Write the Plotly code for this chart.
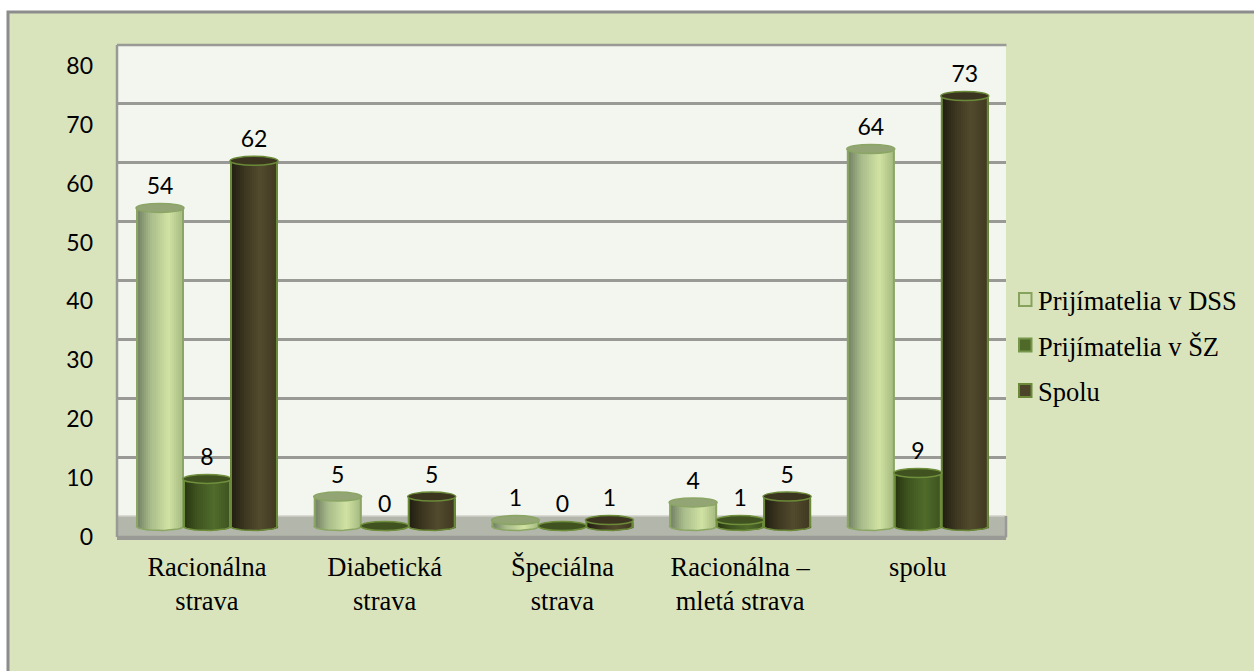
import plotly.graph_objects as go

categories = ["Racionálna<br>strava", "Diabetická<br>strava", "Špeciálna<br>strava", "Racionálna –<br>mletá strava", "spolu"]
series_names = ["Prijímatelia v DSS", "Prijímatelia v ŠZ", "Spolu"]
dss_values = [54, 5, 1, 4, 64]
sz_values = [8, 0, 0, 1, 9]
spolu_values = [62, 5, 1, 5, 73]
y_ticks = [0, 10, 20, 30, 40, 50, 60, 70, 80]

W, H = 1254, 671
PL, PR, PT, PB = 117, 1006, 45, 537
PX_PER_UNIT = 5.89
PX_PER_CAT = 177.7
CAT0_PX = 207

def yrange(zero_px):
    return [(zero_px - PB) / PX_PER_UNIT, (zero_px - PT) / PX_PER_UNIT]

def px_x(px):
    return (px - PL) / (PR - PL)

def px_y(px):
    return (PB - px) / (PB - PT)

def hexrgb(c):
    return [int(c[i:i + 2], 16) for i in (1, 3, 5)]

def ramp(stops, t):
    for (t0, c0), (t1, c1) in zip(stops, stops[1:]):
        if t <= t1:
            f = (t - t0) / (t1 - t0)
            a, b = hexrgb(c0), hexrgb(c1)
            return "rgb(%d,%d,%d)" % tuple(round(a[k] + (b[k] - a[k]) * f) for k in range(3))
    return stops[-1][1]

styles = [
    dict(stops=[(0, "#6d7a60"), (0.3, "#a8bb8a"), (0.68, "#d1e3a3"), (1, "#a2b67f")],
         cap="#93a574", edge="#8aa564", swatch="#d3e0b4", swatch_edge="#87a25c"),
    dict(stops=[(0, "#26320f"), (0.3, "#3f5420"), (0.65, "#506b2a"), (1, "#3d5220")],
         cap="#3f5220", edge="#6f8f3c", swatch="#4f6a28", swatch_edge="#76964a"),
    dict(stops=[(0, "#1f1c10"), (0.3, "#3c3620"), (0.62, "#534b2e"), (1, "#3e3820")],
         cap="#3b3520", edge="#6a8a38", swatch="#4b4428", swatch_edge="#6a8a38"),
]

values = [dss_values, sz_values, spolu_values]
xs = list(range(len(categories)))
N = 24
bar_w = 48 / PX_PER_CAT
group_dx = 47 / PX_PER_CAT
cap_h = 4.5 / PX_PER_UNIT

fig = go.Figure()

# anchors for the overlaid value scales
fig.add_trace(go.Scatter(x=[0], y=[0], mode="markers", marker=dict(opacity=0), showlegend=False, hoverinfo="skip", yaxis="y"))
fig.add_trace(go.Scatter(x=[0], y=[0], mode="markers", marker=dict(opacity=0), showlegend=False, hoverinfo="skip", yaxis="y2"))

FRAME = "#999a95"
shapes = [
    dict(type="rect", xref="paper", yref="paper", layer="below",
         x0=px_x(8), x1=px_x(W + 10), y0=px_y(H + 10), y1=px_y(12),
         fillcolor="#d9e4bd", line=dict(color="#8c8c8c", width=3)),
    dict(type="rect", xref="paper", yref="paper", layer="below", x0=0, x1=1, y0=0, y1=1,
         fillcolor="#f3f6ef", line=dict(width=0)),
    dict(type="rect", xref="paper", yref="paper", layer="below", x0=0, x1=1, y0=0, y1=px_y(516),
         fillcolor="#b3b6aa", line=dict(width=0)),
    dict(type="line", xref="paper", yref="paper", layer="below", x0=0, x1=1, y0=px_y(516), y1=px_y(516),
         line=dict(color="#cfd0ca", width=1.5)),
    dict(type="line", xref="paper", yref="paper", layer="below", x0=0, x1=0, y0=0, y1=1,
         line=dict(color=FRAME, width=2.5)),
    dict(type="line", xref="paper", yref="paper", layer="below", x0=0, x1=px_x(1006.5), y0=0, y1=0,
         line=dict(color=FRAME, width=2.5)),
    dict(type="line", xref="paper", yref="paper", layer="below", x0=1, x1=1, y0=0, y1=px_y(516),
         line=dict(color=FRAME, width=2.5)),
    dict(type="line", xref="paper", yref="paper", layer="below", x0=0, x1=px_x(1006.5), y0=1, y1=1,
         line=dict(color=FRAME, width=2.5)),
]

for s, vals in enumerate(values):
    st = styles[s]
    dx = (s - 1) * group_dx
    for i in range(N):
        t = (i + 0.5) / N
        u = 2 * t - 1
        col = st["edge"] if i == 0 or i == N - 1 else ramp(st["stops"], t)
        fig.add_trace(go.Bar(
            x=xs, y=vals, yaxis="y3",
            base=-cap_h * (1 - u * u) ** 0.5,
            width=(bar_w / N) * (2 if i < N - 1 else 1),
            offset=dx - bar_w / 2 + i * bar_w / N,
            marker=dict(color=col, line=dict(width=0)),
            showlegend=False, hoverinfo="skip"))
    # bottom rim
    rim_x, rim_y = [], []
    for x in xs:
        for k in range(25):
            u = -1 + k / 12
            rim_x.append(x + dx + u * bar_w / 2)
            rim_y.append(-cap_h * (1 - u * u) ** 0.5)
        rim_x.append(None)
        rim_y.append(None)
    fig.add_trace(go.Scatter(x=rim_x, y=rim_y, yaxis="y3", mode="lines",
                             line=dict(color=st["edge"], width=1.5),
                             showlegend=False, hoverinfo="skip"))
    # top caps
    for x, v in zip(xs, vals):
        shapes.append(dict(type="circle", xref="x", yref="y3", layer="above",
                           x0=x + dx - bar_w / 2, x1=x + dx + bar_w / 2,
                           y0=v - cap_h, y1=v + cap_h,
                           fillcolor=st["cap"], line=dict(color=st["edge"], width=1.5)))
    # data labels
    fig.add_trace(go.Scatter(x=[x + dx for x in xs], y=[v + 19.5 / PX_PER_UNIT for v in vals],
                             yaxis="y3", mode="text", text=[str(v) for v in vals],
                             textposition="middle center",
                             textfont=dict(family="Lato", size=23, color="#000000"),
                             showlegend=False, hoverinfo="skip"))

# legend entries (native text; swatches drawn at their measured size)
for s, name in enumerate(series_names):
    st = styles[s]
    fig.add_trace(go.Bar(x=[0], y=[0], yaxis="y3", name=name, width=0, legendgroup=name,
                         marker=dict(color="rgba(0,0,0,0)", line=dict(width=0))))
    top = 293 + s * 45.5
    shapes.append(dict(type="rect", xref="paper", yref="paper", layer="above",
                       x0=px_x(1019), x1=px_x(1031.5), y0=px_y(top + 13), y1=px_y(top),
                       fillcolor=st["swatch"], line=dict(color=st["swatch_edge"], width=2)))

fig.update_layout(
    width=W, height=H,
    margin=dict(l=PL, r=W - PR, t=PT, b=H - PB, autoexpand=False),
    paper_bgcolor="#ffffff",
    plot_bgcolor="rgba(0,0,0,0)",
    barmode="overlay",
    shapes=shapes,
    legend=dict(x=px_x(998), xanchor="left", y=px_y(276), yanchor="top",
                bgcolor="rgba(0,0,0,0)", font=dict(family="Liberation Serif", size=26.5, color="#000000"),
                tracegroupgap=8, itemclick=False, itemdoubleclick=False),
    xaxis=dict(range=[(PL - CAT0_PX) / PX_PER_CAT, (PR - CAT0_PX) / PX_PER_CAT],
               tickmode="array", tickvals=xs, ticktext=categories, ticks="", showgrid=False,
               zeroline=False, showline=True, linecolor=FRAME, linewidth=2.5, mirror=False,
               ticklabelstandoff=4,
               tickfont=dict(family="Liberation Serif", size=26.5, color="#000000")),
    yaxis=dict(range=yrange(537), tickmode="array", tickvals=y_ticks, ticks="", showgrid=False,
               zeroline=False, showline=False, ticklabelstandoff=23,
               tickfont=dict(family="Lato", size=23, color="#000000")),
    yaxis2=dict(range=yrange(516), overlaying="y", tickmode="array", tickvals=y_ticks[1:],
                showticklabels=False, ticks="", showgrid=True, gridcolor="#999a95", gridwidth=2.5,
                zeroline=False, showline=False),
    yaxis3=dict(range=yrange(526), overlaying="y", showticklabels=False, ticks="",
                showgrid=False, zeroline=False, showline=False),
)

fig.write_html("out.html", config=dict(displayModeBar=False),
               post_script="document.body.style.margin='0';")
